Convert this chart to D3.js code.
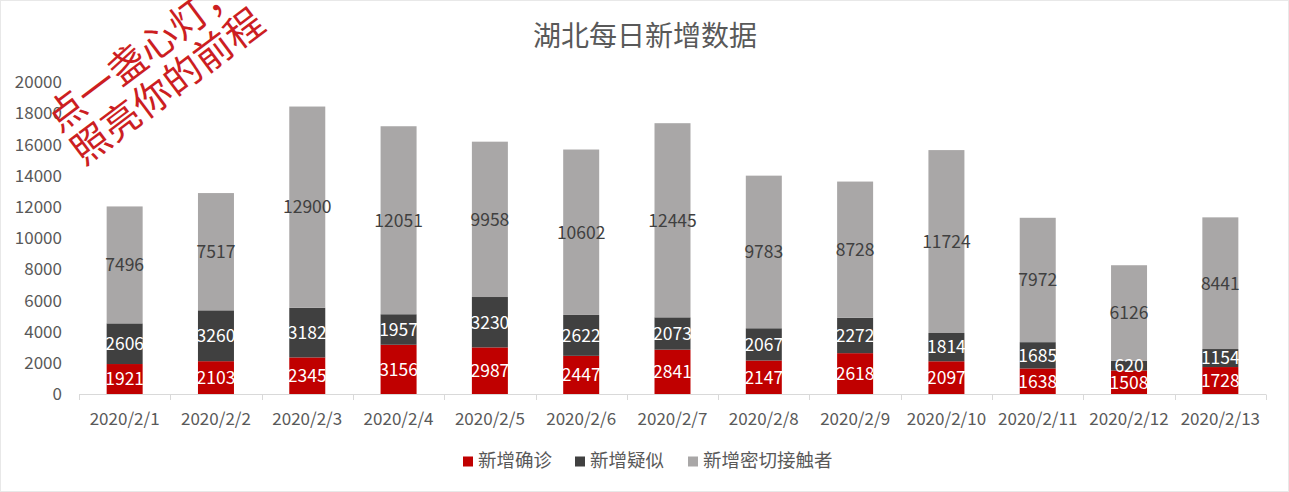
<!DOCTYPE html>
<html>
<head>
<meta charset="utf-8">
<script src="https://cdn.jsdelivr.net/npm/d3@7"></script>
<style>
  html, body { margin: 0; padding: 0; background: #fff; }
  svg { display: block; font-family: "Noto Sans CJK SC", "Noto Sans", sans-serif; }
</style>
</head>
<body>
<svg id="chart" width="1289" height="492"></svg>
<script>
const categories = ["2020/2/1","2020/2/2","2020/2/3","2020/2/4","2020/2/5","2020/2/6","2020/2/7","2020/2/8","2020/2/9","2020/2/10","2020/2/11","2020/2/12","2020/2/13"];
const confirmed = [1921,2103,2345,3156,2987,2447,2841,2147,2618,2097,1638,1508,1728];
const suspected = [2606,3260,3182,1957,3230,2622,2073,2067,2272,1814,1685,620,1154];
const contacts  = [7496,7517,12900,12051,9958,10602,12445,9783,8728,11724,7972,6126,8441];
const seriesNames = ["新增确诊","新增疑似","新增密切接触者"];
const yTicks = [0,2000,4000,6000,8000,10000,12000,14000,16000,18000,20000];
const title = "湖北每日新增数据";
const watermark = ["点一盏心灯，","照亮你的前程"];

const colors = ["#c00000","#404040","#a9a7a7"];
const labelColors = ["#ffffff","#ffffff","#404040"];

const svg = d3.select("#chart");
const W = 1289, H = 492;

// border
svg.append("rect").attr("x",0.5).attr("y",0.5).attr("width",W-1).attr("height",H-1)
  .attr("fill","#fff").attr("stroke","#d0d0d0").attr("stroke-dasharray","1,1");

const xb = d3.scaleBand().domain(categories).range([79, 1266]);
const y = d3.scaleLinear().domain([0,20000]).range([394, 82]);

const data = categories.map((c,i)=>({cat:c, v0:confirmed[i], v1:suspected[i], v2:contacts[i]}));
const stack = d3.stack().keys(["v0","v1","v2"])(data);

// y labels
svg.append("g").selectAll("text").data(yTicks).join("text")
  .attr("x",62).attr("y",d=>y(d)).attr("dy","0.36em")
  .attr("text-anchor","end").attr("fill","#595959").attr("font-size",17)
  .text(d=>d);

// bars
stack.forEach((s,si)=>{
  const g = svg.append("g");
  g.selectAll("rect").data(s).join("rect")
    .attr("x",d=>xb(d.data.cat)+xb.bandwidth()/2-18)
    .attr("width",36)
    .attr("y",d=>y(d[1]))
    .attr("height",d=>y(d[0])-y(d[1]))
    .attr("fill",colors[si]);
});
stack.forEach((s,si)=>{
  svg.append("g").selectAll("text").data(s).join("text")
    .attr("x",d=>xb(d.data.cat)+xb.bandwidth()/2)
    .attr("y",d=>(y(d[0])+y(d[1]))/2)
    .attr("dy","0.36em")
    .attr("text-anchor","middle")
    .attr("font-size",17.5)
    .attr("fill",labelColors[si])
    .text(d=>d[1]-d[0]);
});

// x axis
const xa = svg.append("g");
xa.append("line").attr("x1",79).attr("x2",1266).attr("y1",394.5).attr("y2",394.5)
  .attr("stroke","#d9d9d9").attr("stroke-width",1);
const bounds = categories.map(c=>xb(c)).concat([xb(categories[categories.length-1])+xb.bandwidth()]);
xa.selectAll("line.tk").data(bounds).join("line").attr("class","tk")
  .attr("x1",d=>Math.round(d)+0.5).attr("x2",d=>Math.round(d)+0.5)
  .attr("y1",394.5).attr("y2",400).attr("stroke","#d9d9d9");
xa.selectAll("text").data(categories).join("text")
  .attr("x",d=>xb(d)+xb.bandwidth()/2).attr("y",419).attr("dy","0.36em")
  .attr("text-anchor","middle").attr("font-size",17).attr("fill","#595959")
  .text(d=>d);

// title
svg.append("text").attr("x",645).attr("y",36).attr("dy","0.36em")
  .attr("text-anchor","middle").attr("font-size",28).attr("fill","#595959").text(title);

// legend
const legX = [463, 575, 688];
const lg = svg.append("g");
seriesNames.forEach((n,i)=>{
  lg.append("rect").attr("x",legX[i]).attr("y",456.5).attr("width",10).attr("height",10).attr("fill",colors[i]);
  lg.append("text").attr("x",legX[i]+15).attr("y",460).attr("dy","0.36em")
    .attr("font-size",18.5).attr("fill","#595959").text(n);
});

// watermark
const wm = svg.append("g");
const starts = [[51,122],[75.6,155]];
watermark.forEach((t,i)=>{
  wm.append("text")
    .attr("transform",`translate(${starts[i][0]},${starts[i][1]}) rotate(-36.9)`)
    .attr("dy","0.36em")
    .attr("font-size",38).attr("letter-spacing",0.3)
    .attr("fill","#cc1e22").text(t);
});
</script>
</body>
</html>
